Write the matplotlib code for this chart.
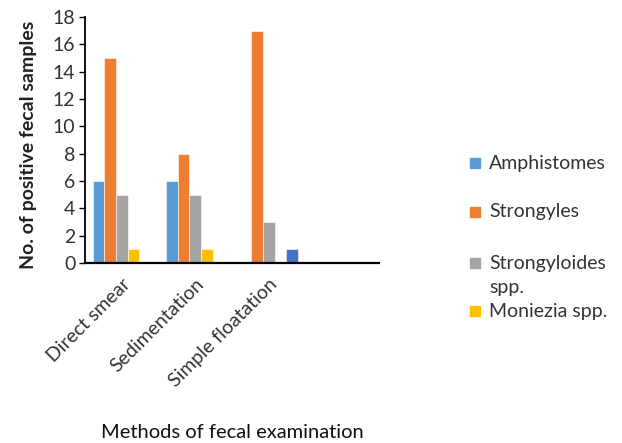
import numpy as np
from matplotlib import pyplot as plt
from matplotlib.patches import Rectangle

plt.rcParams.update({'font.family': ['Lato', 'DejaVu Sans'], 'font.size': 14})

# data (4th category is an empty slot)
methods = ['Direct smear', 'Sedimentation', 'Simple floatation', '']
amphistomes = [6, 6, 0, 0]
strongyles = [15, 8, 17, 0]
strongyloides = [5, 5, 3, 0]
moniezia = [1, 1, 0, 0]
unnamed = [0, 0, 1, 0]   # 5th series, not in the legend

series = [amphistomes, strongyles, strongyloides, moniezia, unnamed]
names = ['Amphistomes', 'Strongyles', 'Strongyloides\nspp.', 'Moniezia spp.', None]
colors = ['#5B9BD5', '#ED7D31', '#A5A5A5', '#FFC000', '#4472C4']

W, H = 622, 443
fig = plt.figure(figsize=(W / 100, H / 100), dpi=100)
ax = fig.add_axes([85 / W, 1 - 263 / H, (379 - 85) / W, (263 - 17) / H])

x = np.arange(len(methods))
w = 0.159
for i, (vals, c) in enumerate(zip(series, colors)):
    ax.bar(x + (i - 2) * w, vals, width=w, color=c, edgecolor='white', linewidth=0.4)

ax.set_xlim(-0.5, len(methods) - 0.5)
ax.set_ylim(0, 18)
ax.set_yticks(range(0, 19, 2))
ax.tick_params(axis='y', direction='out', length=4, width=1, colors='black',
               labelcolor='#333333', labelsize=14, pad=3)
ax.set_xticks(x)
ax.set_xticklabels(methods, rotation=45, ha='right', va='top',
                   rotation_mode='anchor', fontsize=14, color='#333333')
ax.tick_params(axis='x', length=0, pad=9)

for s in ['top', 'right']:
    ax.spines[s].set_visible(False)
ax.spines['left'].set_linewidth(1.3)
ax.spines['bottom'].set_linewidth(1.6)

fig.text(29 / W, 1 - 145 / H, 'No. of positive fecal samples', rotation=90,
         ha='center', va='center', fontsize=14, fontweight='bold', color='#222222')
fig.text(232 / W, 1 - 432 / H, 'Methods of fecal examination',
         ha='center', va='center', fontsize=14.5, color='#111111')

# legend drawn by hand (handle aligned with first text line, like the original)
leg_y = [163, 212, 263, 311]
for yc, name, c in zip(leg_y, names, colors):
    fig.patches.append(Rectangle((470 / W, 1 - (yc + 5) / H), 10 / W, 10 / H,
                                 transform=fig.transFigure, color=c))
    for j, line in enumerate(name.split('\n')):
        fig.text(489 / W, 1 - (yc + j * 24) / H, line, ha='left', va='center',
                 fontsize=14, color='#333333')

fig.savefig('out.png', dpi=100)
